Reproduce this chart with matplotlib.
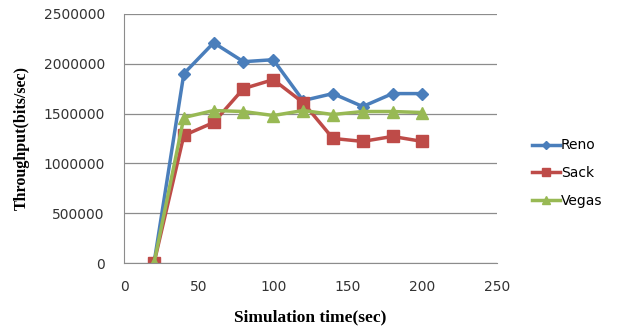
import matplotlib.pyplot as plt
from matplotlib.ticker import FuncFormatter

times = [20, 40, 60, 80, 100, 120, 140, 160, 180, 200]
reno = [0, 1900000, 2210000, 2020000, 2040000, 1630000, 1700000, 1570000, 1700000, 1700000]
sack = [0, 1280000, 1410000, 1750000, 1840000, 1610000, 1250000, 1220000, 1270000, 1220000]
vegas = [0, 1460000, 1530000, 1520000, 1480000, 1530000, 1490000, 1520000, 1520000, 1510000]

fig = plt.figure(figsize=(6.18, 3.3), dpi=100)
ax = fig.add_axes([0.201, 0.203, 0.603, 0.755])

ax.plot(times, reno, color="#4A7EBB", lw=2.5, marker="D", ms=6, label="Reno")
ax.plot(times, sack, color="#BE4B48", lw=2.5, marker="s", ms=8, label="Sack")
ax.plot(times, vegas, color="#98B954", lw=2.5, marker="^", ms=8, label="Vegas")

ax.set_xlim(0, 250)
ax.set_ylim(0, 2500000)
ax.set_xticks([0, 50, 100, 150, 200, 250])
ax.set_yticks(range(0, 2500001, 500000))
ax.yaxis.set_major_formatter(FuncFormatter(lambda v, p: "%d" % v))
ax.yaxis.grid(True, color="#8c8c8c", lw=0.9)
ax.set_axisbelow(True)
for s in ["top", "right"]:
    ax.spines[s].set_visible(False)
for s in ["left", "bottom"]:
    ax.spines[s].set_color("#8c8c8c")
ax.tick_params(length=0, labelsize=10, colors="#333333")
ax.tick_params(axis="x", pad=12)
ax.tick_params(axis="y", pad=14)

ax.set_xlabel("Simulation time(sec)", family="Liberation Serif", weight="bold", fontsize=12.5, labelpad=11)
ax.set_ylabel("Throughput(bits/sec)", family="Liberation Serif", weight="bold", fontsize=11.5, labelpad=10)

ax.legend(loc="center left", bbox_to_anchor=(1.06, 0.36), frameon=False, fontsize=10,
          handlelength=2.0, handletextpad=0.1, labelspacing=1.0, markerscale=0.75)

fig.savefig("out.png", dpi=100)
